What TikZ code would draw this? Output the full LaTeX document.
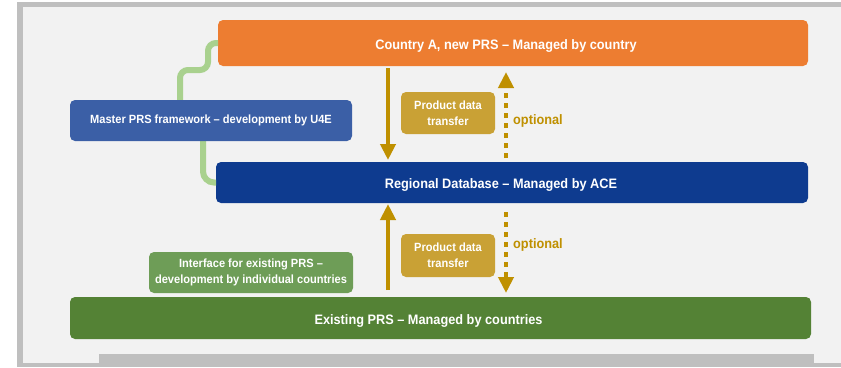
\documentclass[tikz,border=0pt]{standalone}
\usepackage{fontspec}
\setmainfont{Liberation Sans}
\newfontfamily\narrowsans{Liberation Sans}[FakeStretch=0.93]
\usetikzlibrary{arrows.meta}
\definecolor{framegray}{HTML}{BFBFBF}
\definecolor{bgfill}{HTML}{F2F2F2}
\definecolor{orangeA}{HTML}{ED7D31}
\definecolor{masterblue}{HTML}{3B5FA6}
\definecolor{regblue}{HTML}{0E3B8F}
\definecolor{ifgreen}{HTML}{6E9D57}
\definecolor{exgreen}{HTML}{548235}
\definecolor{prodgold}{HTML}{C9A135}
\definecolor{arrowgold}{HTML}{BF9000}
\definecolor{linkgreen}{HTML}{A9D18E}
\newcommand\boxlbl[2]{\raisebox{-2.5pt}[\height][\depth]{#1\kern#2}}
\tikzset{
  box/.style={rectangle, rounded corners=5pt, anchor=north west, inner sep=0pt, outer sep=0pt,
    text=white, align=center, font=\narrowsans\bfseries\fontsize{13.7}{16}\selectfont},
  smallbox/.style={box, font=\narrowsans\bfseries\fontsize{11.9}{16}\selectfont},
  solidarrow/.style={draw=arrowgold, line width=4.5pt, -{Triangle[width=15pt,length=16pt]}},
  dotarrow/.style={draw=arrowgold, line width=4.5pt, dash pattern=on 5pt off 5pt, -{Triangle[width=15pt,length=16pt]}},
  optlabel/.style={anchor=west, inner sep=0pt, text=arrowgold, font=\narrowsans\bfseries\fontsize{13.7}{16}\selectfont},
  greenlink/.style={draw=linkgreen, line width=6pt, rounded corners=8pt}
}
\begin{document}
\begin{tikzpicture}[x=1pt,y=-1pt]
\useasboundingbox (0,0) rectangle (841,367);
% frame
\fill[framegray] (17,2) rectangle (841,367);
\fill[bgfill] (23,7) rectangle (841,363);
\fill[framegray] (99,354) rectangle (814,364);

% main boxes
\node[box, fill=orangeA, minimum width=590pt, minimum height=46pt] (country) at (218,20) {\boxlbl{Country A, new PRS – Managed by country}{14pt}};
\node[box, fill=regblue, minimum width=592pt, minimum height=41pt] (regional) at (216,162) {\boxlbl{Regional Database – Managed by ACE}{22pt}};
\node[box, fill=exgreen, minimum width=741pt, minimum height=42pt] (existing) at (70,297) {\boxlbl{Existing PRS – Managed by countries}{24pt}};

% green links (drawn under the master box)
\coordinate (gA) at (180,70);
\coordinate (gB) at (208,70);
\coordinate (mtop) at (180,100);
\coordinate (mbot) at (203,138);
\draw[greenlink] (mtop) -- (gA) -- (gB) |- (country.west);
\draw[greenlink, rounded corners=11pt] (mbot) |- (regional.west);

\node[smallbox, fill=masterblue, minimum width=282pt, minimum height=41pt] (master) at (70,100) {Master PRS framework – development by U4E};
\node[smallbox, fill=ifgreen, minimum width=204pt, minimum height=41pt] (interface) at (149,252) {Interface for existing PRS –\\development by individual countries};

% product data boxes
\node[smallbox, fill=prodgold, minimum width=94pt, minimum height=42pt] (prod1) at (401,92) {Product data\\transfer};
\node[smallbox, fill=prodgold, minimum width=94pt, minimum height=43pt] (prod2) at (401,234) {Product data\\transfer};

% arrows
\coordinate (colL) at (388,0);
\coordinate (colR) at (506,0);
\draw[solidarrow, shorten <=2pt, shorten >=2pt] (country.south -| colL) -- (regional.north -| colL);
\draw[dotarrow, shorten <=4pt, shorten >=6pt] (regional.north -| colR) -- (country.south -| colR);
\draw[solidarrow, shorten <=7pt, shorten >=1pt] (existing.north -| colL) -- (regional.south -| colL);
\draw[dotarrow, shorten <=9pt, shorten >=4pt] (regional.south -| colR) -- (existing.north -| colR);

\node[optlabel] (opt1) at (513,121) {optional};
\node[optlabel] (opt2) at (513,245) {optional};
\end{tikzpicture}
\end{document}
